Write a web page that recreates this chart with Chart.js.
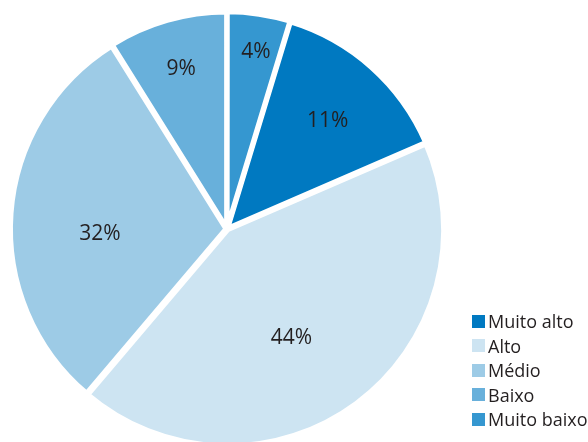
<!DOCTYPE html>
<html>
<head>
<meta charset="utf-8">
<script src="https://cdn.jsdelivr.net/npm/chart.js@4/dist/chart.umd.min.js"></script>
<style>
  html, body { margin: 0; padding: 0; background: #fff; }
  #wrap { position: relative; width: 588px; height: 442px; overflow: hidden; }
  #legend {
    position: absolute; left: 472px; top: 309px;
    font-family: 'Open Sans', sans-serif; font-size: 18px; color: #231f20;
  }
  .leg-row { display: flex; align-items: center; height: 24.5px; line-height: 24.5px; white-space: nowrap; }
  .leg-box { width: 13px; height: 13px; margin-right: 3px; flex: none; }
</style>
</head>
<body>
<div id="wrap">
  <canvas id="chart-nivel" width="588" height="450"></canvas>
  <div id="legend"></div>
</div>
<script>
// categorias (ordem da legenda)
const categorias = ['Muito alto', 'Alto', 'Médio', 'Baixo', 'Muito baixo'];
// fatias como aparecem desenhadas (%)
const fatias = [13.8, 42.7, 29.9, 8.9, 4.7];
// textos impressos nas fatias
const rotulos = ['11%', '44%', '32%', '9%', '4%'];
const cores = ['#0079c1', '#cde4f2', '#9dcbe6', '#68b0db', '#3597d0'];

// posição dos rótulos: t = fração do ângulo da fatia, f = fração do raio
const posRotulo = [
    { t: 0.53, f: 0.682 },
    { t: 0.54, f: 0.59 },
    { t: 0.44, f: 0.59 },
    { t: 0.50, f: 0.77 },
    { t: 0.55, f: 0.828 },
];

const total = fatias.reduce((a, b) => a + b, 0);
// a fatia "Muito baixo" começa no topo, por isso roda-se o início
const rotacao = fatias[fatias.length - 1] / total * 360;

const rotulosPlugin = {
    id: 'rotulos',
    afterDatasetsDraw(chart) {
        const ctx = chart.ctx;
        const meta = chart.getDatasetMeta(0);
        ctx.save();
        ctx.font = '21px "Open Sans"';
        ctx.fillStyle = '#231f20';
        ctx.textAlign = 'center';
        ctx.textBaseline = 'alphabetic';
        meta.data.forEach((arc, i) => {
            const p = posRotulo[i];
            const a = arc.startAngle + (arc.endAngle - arc.startAngle) * p.t;
            const r = arc.outerRadius * p.f;
            ctx.fillText(rotulos[i], arc.x + Math.cos(a) * r, arc.y + Math.sin(a) * r + 5.5);
        });
        ctx.restore();
    },
};

new Chart(document.getElementById('chart-nivel'), {
    type: 'pie',
    data: {
        labels: categorias,
        datasets: [{
            data: fatias,
            backgroundColor: cores,
            borderColor: '#ffffff',
            borderWidth: 5,
            offset: 4,
            hoverOffset: 0,
        }],
    },
    options: {
        responsive: false,
        animation: false,
        rotation: rotacao,
        layout: { padding: { left: 7, top: 9, right: 141, bottom: 1 } },
        plugins: {
            legend: { display: false },
            tooltip: { enabled: false },
        },
        events: [],
    },
    plugins: [rotulosPlugin],
});

document.getElementById('legend').innerHTML = categorias.map((c, i) =>
    `<div class="leg-row"><div class="leg-box" style="background:${cores[i]}"></div>${c}</div>`
).join('');
</script>
</body>
</html>
